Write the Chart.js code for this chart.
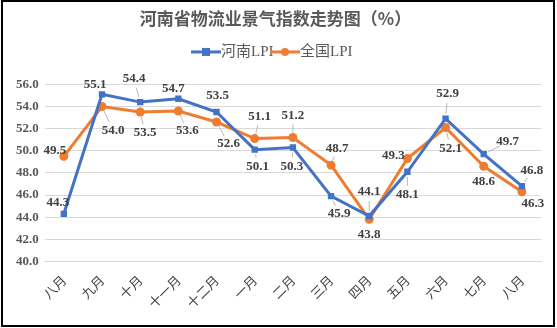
<!DOCTYPE html>
<html>
<head>
<meta charset="utf-8">
<script src="https://cdn.jsdelivr.net/npm/chart.js@4.4.1/dist/chart.umd.min.js"></script>
<style>
  body { margin: 0; background: #fff; }
  #wrap { position: relative; width: 557px; height: 328px; }
</style>
</head>
<body>
<div id="wrap"><canvas id="myChart"></canvas></div>
<script>
var months = ['八月', '九月', '十月', '十一月', '十二月', '一月', '二月', '三月', '四月', '五月', '六月', '七月', '八月'];
var henanLPI = [44.3, 55.1, 54.4, 54.7, 53.5, 50.1, 50.3, 45.9, 44.1, 48.1, 52.9, 49.7, 46.8];
var nationalLPI = [49.5, 54.0, 53.5, 53.6, 52.6, 51.1, 51.2, 48.7, 43.8, 49.3, 52.1, 48.6, 46.3];
var yTicks = [40, 42, 44, 46, 48, 50, 52, 54, 56];

var blue = '#4472c4';
var orange = '#ed7d31';

// where each value label sits, relative to its point
var labelOffsets = [
    [[-6, -11], [-7, -10], [-6, -23], [-5, -10], [1, -16], [3, 17], [-1, 19], [8, 18], [0, -24], [0, 23], [2, -25], [24, -12], [10, -16]],
    [[-9, -6], [11, 24], [5, 21], [9, 20], [12, 22], [5, -22], [0, -22], [6, -17], [0, 15], [-14, -3], [5, 21], [0, 15], [11, 12]]
];

function legendIcon(color, square) {
    var c = document.createElement('canvas');
    c.width = 30; c.height = 10;
    var g = c.getContext('2d');
    g.strokeStyle = color;
    g.lineWidth = 3;
    g.beginPath(); g.moveTo(0, 5); g.lineTo(30, 5); g.stroke();
    g.fillStyle = color;
    if (square) { g.fillRect(11, 1, 8, 8); }
    else { g.beginPath(); g.arc(15, 5, 4, 0, Math.PI * 2); g.fill(); }
    return c;
}

var valueLabels = {
    id: 'valueLabels',
    afterDatasetsDraw: function (chart) {
        var ctx = chart.ctx;
        ctx.save();
        ctx.font = 'bold 13px "Liberation Serif", serif';
        ctx.fillStyle = '#404040';
        ctx.textAlign = 'center';
        ctx.textBaseline = 'middle';
        chart.data.datasets.forEach(function (ds, di) {
            chart.getDatasetMeta(di).data.forEach(function (pt, i) {
                var off = labelOffsets[di][i];
                var lx = pt.x + off[0], ly = pt.y + off[1];
                var d = Math.sqrt(off[0] * off[0] + off[1] * off[1]);
                if (d > 17) {
                    ctx.strokeStyle = '#a6a6a6';
                    ctx.lineWidth = 0.8;
                    ctx.beginPath();
                    ctx.moveTo(pt.x + off[0] * 5 / d, pt.y + off[1] * 5 / d);
                    ctx.lineTo(lx - off[0] * 9 / d, ly - off[1] * 9 / d);
                    ctx.stroke();
                }
                ctx.fillText(ds.data[i].toFixed(1), lx, ly);
            });
        });
        ctx.restore();
    }
};

// extra room under the legend
var legendGap = {
    id: 'legendGap',
    afterInit: function (chart) {
        var orig = chart.legend.fit;
        chart.legend.fit = function () {
            orig.call(this);
            this.height += 15;
        };
    }
};

var frame = {
    id: 'frame',
    afterDraw: function (chart) {
        var ctx = chart.ctx;
        ctx.save();
        ctx.strokeStyle = '#000';
        ctx.lineWidth = 2;
        ctx.strokeRect(2, 1, 552, 325);
        ctx.restore();
    }
};

var ctx = document.getElementById('myChart').getContext('2d');
var myLineChart = new Chart(ctx, {
    type: 'line',
    data: {
        labels: months,
        datasets: [{
            label: '河南LPI',
            data: henanLPI,
            borderColor: blue,
            backgroundColor: blue,
            borderWidth: 3,
            pointStyle: 'rect',
            pointRadius: 4.5,
            pointBorderWidth: 0,
            tension: 0
        }, {
            label: '全国LPI',
            data: nationalLPI,
            borderColor: orange,
            backgroundColor: orange,
            borderWidth: 3,
            pointStyle: 'circle',
            pointRadius: 4.5,
            pointBorderWidth: 0,
            tension: 0
        }]
    },
    options: {
        responsive: true,
        maintainAspectRatio: false,
        animation: false,
        layout: { padding: { left: 10, right: 16, top: 5, bottom: 14 } },
        plugins: {
            title: {
                display: true,
                text: '河南省物流业景气指数走势图（%）',
                color: '#595959',
                font: { size: 17, weight: 'bold', family: '"Noto Sans CJK SC", "Liberation Serif", serif' },
                padding: { top: 3, bottom: 12 }
            },
            legend: {
                labels: {
                    color: '#595959',
                    font: { size: 15, family: '"Liberation Serif", "Noto Sans CJK SC", serif' },
                    usePointStyle: true,
                    boxWidth: 30,
                    padding: 4,
                    generateLabels: function (chart) {
                        return chart.data.datasets.map(function (ds, i) {
                            return {
                                text: ds.label,
                                pointStyle: legendIcon(ds.borderColor, i === 0),
                                fontColor: '#595959',
                                datasetIndex: i,
                                lineWidth: 0
                            };
                        });
                    }
                }
            },
            tooltip: { enabled: false }
        },
        scales: {
            x: {
                offset: true,
                grid: { display: false },
                border: { color: '#d9d9d9' },
                ticks: {
                    color: '#404040',
                    maxRotation: 45,
                    minRotation: 45,
                    font: { size: 13, family: '"Noto Sans CJK SC", serif' }
                }
            },
            y: {
                min: 40,
                max: 56,
                afterBuildTicks: function (axis) {
                    axis.ticks = yTicks.map(function (v) { return { value: v }; });
                },
                grid: { color: '#d9d9d9', drawTicks: false },
                border: { display: false },
                ticks: {
                    color: '#595959',
                    padding: 6,
                    font: { size: 13, weight: 'bold', family: '"Liberation Serif", serif' },
                    callback: function (v) { return v.toFixed(1); }
                }
            }
        }
    },
    plugins: [valueLabels, legendGap, frame]
});
</script>
</body>
</html>
